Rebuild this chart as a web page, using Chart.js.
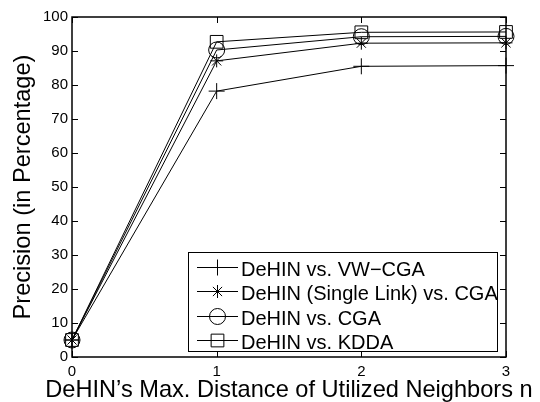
<!DOCTYPE html>
<html>
<head>
<meta charset="utf-8">
<script src="https://cdn.jsdelivr.net/npm/chart.js@4/dist/chart.umd.min.js"></script>
<style>
  html, body { margin: 0; padding: 0; background: #fff; }
  canvas { display: block; }
</style>
</head>
<body>
<canvas id="c" width="540" height="402"></canvas>
<script>
// data
const distances = [0, 1, 2, 3];
const vwCga = [5, 78.2, 85.5, 85.7];
const singleLinkCga = [5, 87.1, 92.3, 92.4];
const cga = [5, 90.3, 94.2, 94.3];
const kdda = [5, 92.7, 95.5, 95.6];
const seriesLabels = ['DeHIN vs. VW\u2212CGA', 'DeHIN (Single Link) vs. CGA', 'DeHIN vs. CGA', 'DeHIN vs. KDDA'];
const xTitle = 'DeHIN\u2019s Max. Distance of Utilized Neighbors n';
const yTitle = 'Precision (in Percentage)';

const FONT = 'Liberation Sans, Arial, Helvetica, sans-serif';

function series(label, vals, style, r) {
    return {
        label: label,
        data: distances.map((d, i) => ({x: d, y: vals[i]})),
        borderColor: '#000',
        backgroundColor: 'rgba(0,0,0,0)',
        borderWidth: 1,
        pointStyle: style,
        pointRadius: r,
        pointBorderWidth: 1,
        pointBorderColor: '#000',
        pointBackgroundColor: 'rgba(0,0,0,0)',
        tension: 0,
        fill: false,
        clip: false
    };
}

// box round the plot with ticks pointing inwards
const frame = {
    id: 'frame',
    afterDatasetsDraw(chart) {
        const ctx = chart.ctx, a = chart.chartArea;
        const x = chart.scales.x, y = chart.scales.y;
        ctx.save();
        ctx.strokeStyle = '#000';
        ctx.lineWidth = 1;
        ctx.beginPath();
        x.ticks.forEach(t => {
            const px = Math.round(x.getPixelForValue(t.value)) + 0.5;
            ctx.moveTo(px, a.bottom); ctx.lineTo(px, a.bottom - 6);
            ctx.moveTo(px, a.top); ctx.lineTo(px, a.top + 6);
        });
        y.ticks.forEach(t => {
            const py = Math.round(y.getPixelForValue(t.value)) + 0.5;
            ctx.moveTo(a.left, py); ctx.lineTo(a.left + 6, py);
            ctx.moveTo(a.right, py); ctx.lineTo(a.right - 6, py);
        });
        ctx.stroke();
        ctx.lineWidth = 1.5;
        ctx.strokeRect(a.left, a.top, a.right - a.left, a.bottom - a.top);
        ctx.restore();
    }
};

// x title is wider than the axis, chart.js would squeeze it, so draw it here
const xLabel = {
    id: 'xLabel',
    afterDraw(chart) {
        const ctx = chart.ctx, a = chart.chartArea;
        ctx.save();
        ctx.font = '23.6px ' + FONT;
        ctx.fillStyle = '#000';
        ctx.textAlign = 'center';
        ctx.textBaseline = 'middle';
        ctx.fillText(xTitle, (a.left + a.right) / 2, a.bottom + 33);
        ctx.restore();
    }
};

// legend box in the lower right corner of the plot
const boxLegend = {
    id: 'boxLegend',
    afterDraw(chart) {
        const ctx = chart.ctx, a = chart.chartArea;
        const w = 309, h = 99;
        const left = a.right - 9 - w, top = a.bottom - 6 - h;
        ctx.save();
        ctx.fillStyle = '#fff';
        ctx.fillRect(left, top, w, h);
        ctx.strokeStyle = '#000';
        ctx.lineWidth = 1;
        ctx.strokeRect(left + 0.5, top + 0.5, w, h);
        ctx.font = '20px ' + FONT;
        ctx.textBaseline = 'middle';
        chart.data.datasets.forEach((ds, i) => {
            const cy = Math.round(top + 14.5 + i * 24.5) + 0.5;
            ctx.beginPath();
            ctx.moveTo(left + 9, cy);
            ctx.lineTo(left + 50, cy);
            ctx.lineWidth = 1;
            ctx.stroke();
            ctx.fillStyle = 'rgba(0,0,0,0)';
            Chart.helpers.drawPoint(ctx, {
                pointStyle: ds.pointStyle,
                radius: ds.pointRadius,
                rotation: 0,
                borderWidth: 1
            }, left + 29.5, cy);
            ctx.fillStyle = '#000';
            ctx.fillText(ds.label, left + 53, cy + 3);
        });
        ctx.restore();
    }
};

new Chart(document.getElementById('c'), {
    type: 'line',
    data: {
        datasets: [
            series(seriesLabels[0], vwCga, 'cross', 8),
            series(seriesLabels[1], singleLinkCga, 'star', 6.5),
            series(seriesLabels[2], cga, 'circle', 8),
            series(seriesLabels[3], kdda, 'rect', 9)
        ]
    },
    options: {
        responsive: false,
        animation: false,
        devicePixelRatio: 1,
        layout: {
            padding: {top: 17, right: 34, left: 0, bottom: 0}
        },
        scales: {
            x: {
                type: 'linear',
                min: 0,
                max: 3,
                afterFit: (s) => { s.height = 45; },
                ticks: {
                    stepSize: 1,
                    color: '#000',
                    padding: 6,
                    font: {family: FONT, size: 15}
                },
                grid: {display: false, drawTicks: false},
                border: {display: false}
            },
            y: {
                min: 0,
                max: 100,
                afterFit: (s) => { s.width = 72; },
                ticks: {
                    stepSize: 10,
                    color: '#000',
                    padding: 4,
                    font: {family: FONT, size: 15}
                },
                grid: {display: false, drawTicks: false},
                border: {display: false},
                title: {
                    display: true,
                    text: yTitle,
                    color: '#000',
                    padding: {top: 12, bottom: 0},
                    font: {family: FONT, size: 23.6, lineHeight: 1}
                }
            }
        },
        plugins: {
            legend: {display: false},
            tooltip: {enabled: false}
        }
    },
    plugins: [frame, xLabel, boxLegend]
});
</script>
</body>
</html>
